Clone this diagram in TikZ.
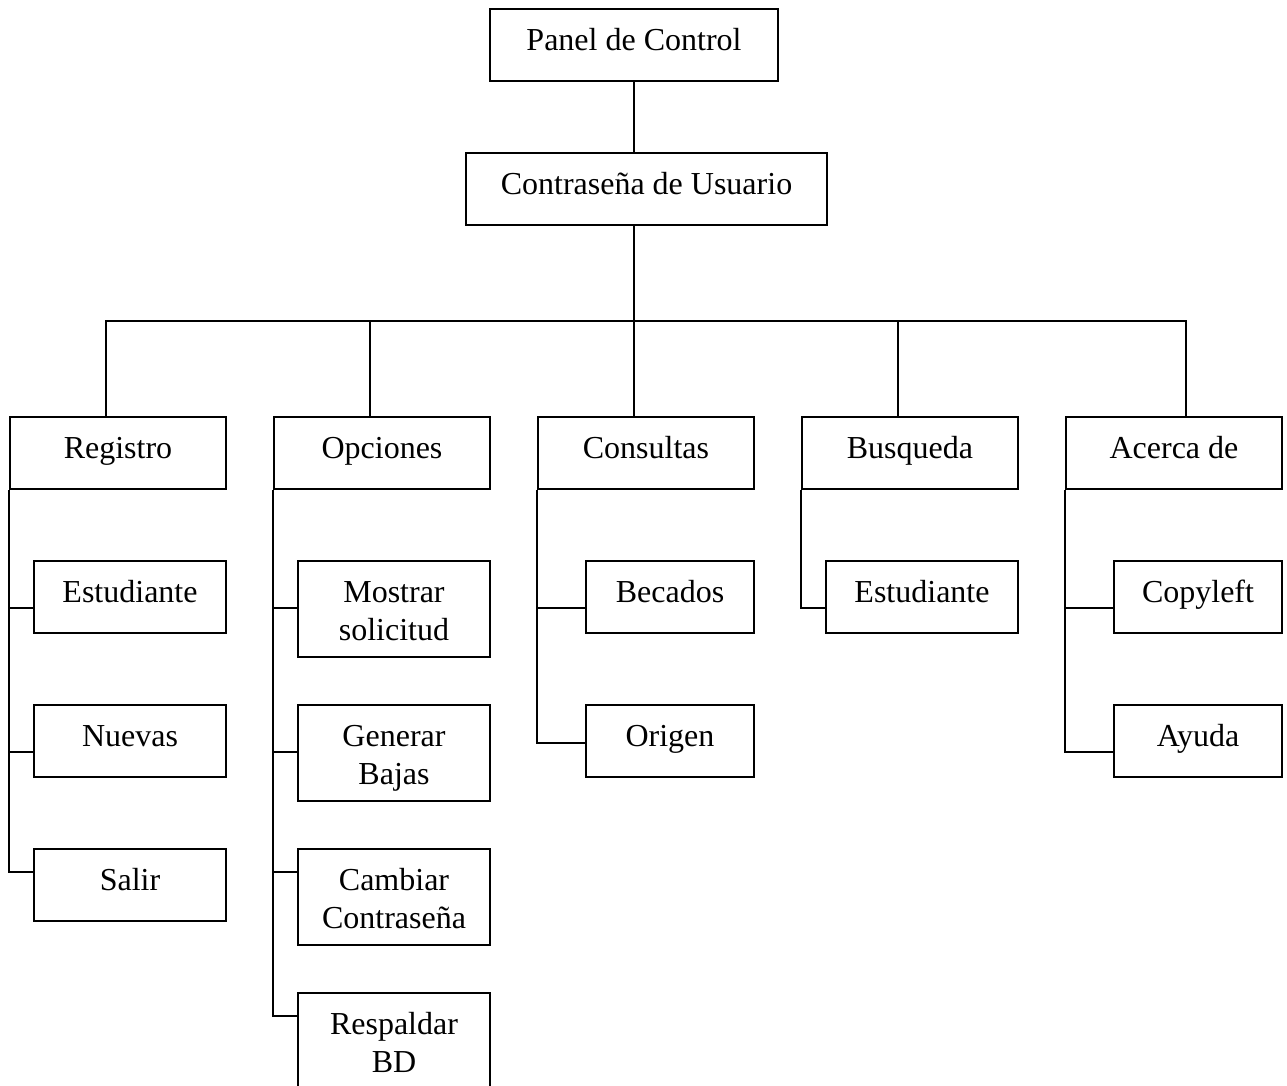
\documentclass[tikz,border=0pt]{standalone}
\usepackage{fontspec}
\setmainfont{Liberation Serif}
\usetikzlibrary{calc}

% line struts: a single line gets fixed height and depth;
% two-line labels get a tall first line and a shallow last line
\newcommand{\lstrut}{\rule[-6pt]{0pt}{17pt}}
\newcommand{\twoline}[2]{\rule{0pt}{15.5pt}#1\\\rule[-3.5pt]{0pt}{3.5pt}#2}

\tikzset{
  menubox/.style={draw=black, line width=1pt, rectangle, inner sep=0pt,
    align=center, font=\fontsize{16}{19}\selectfont},
  wide/.style={minimum width=108pt},
  sub/.style={minimum width=96pt},
  subnarrow/.style={minimum width=84pt},
  onerow/.style={minimum height=36pt},
  tworow/.style={minimum height=48pt},
  link/.style={draw=black, line width=1pt}
}

\begin{document}
\begin{tikzpicture}[x=0.5pt, y=-0.5pt]
\useasboundingbox (0,0) rectangle (1287,1086);
\clip (0,0) rectangle (1287,1086);

% top of the tree
\node[menubox, minimum width=144pt, onerow] (panel) at (634,45) {\lstrut Panel de Control};
\node[menubox, minimum width=180.5pt, onerow] (pass) at (646.5,189) {\lstrut Contraseña de Usuario};

% main menu
\node[menubox, wide, onerow] (reg) at (118,453) {\lstrut Registro};
\node[menubox, wide, onerow] (opt) at (382,453) {\lstrut Opciones};
\node[menubox, wide, onerow] (con) at (646,453) {\lstrut Consultas};
\node[menubox, wide, onerow] (bus) at (910,453) {\lstrut Busqueda};
\node[menubox, wide, onerow] (acd) at (1174,453) {\lstrut Acerca de};

% Registro items
\node[menubox, sub, onerow] (reg1) at (130,597) {\lstrut Estudiante};
\node[menubox, sub, onerow] (reg2) at (130,741) {\lstrut Nuevas};
\node[menubox, sub, onerow] (reg3) at (130,885) {\lstrut Salir};

% Opciones items
\node[menubox, sub, tworow] (opt1) at (394,609) {\twoline{Mostrar}{solicitud}};
\node[menubox, sub, tworow] (opt2) at (394,753) {\twoline{Generar}{Bajas}};
\node[menubox, sub, tworow] (opt3) at (394,897) {\twoline{Cambiar}{Contraseña}};
\node[menubox, sub, tworow] (opt4) at (394,1041) {\twoline{Respaldar}{BD}};

% Consultas items
\node[menubox, subnarrow, onerow] (con1) at (670,597) {\lstrut Becados};
\node[menubox, subnarrow, onerow] (con2) at (670,741) {\lstrut Origen};

% Busqueda items
\node[menubox, sub, onerow] (bus1) at (922,597) {\lstrut Estudiante};

% Acerca de items
\node[menubox, subnarrow, onerow] (acd1) at (1198,597) {\lstrut Copyleft};
\node[menubox, subnarrow, onerow] (acd2) at (1198,741) {\lstrut Ayuda};

% trunk and horizontal bus
\coordinate (hub) at (634,321);
\draw[link] (panel.south) -- (panel.south |- pass.north);
\draw[link] (panel.south |- pass.south) -- (hub);

\coordinate (d1) at ($(reg.north)+(-12,0)$);
\coordinate (d2) at ($(opt.north)+(-12,0)$);
\coordinate (d3) at ($(con.north)+(-12,0)$);
\coordinate (d4) at ($(bus.north)+(-12,0)$);
\coordinate (d5) at ($(acd.north)+(12,0)$);
\draw[link] (d1) |- (hub);
\draw[link] (d5) |- (hub);
\draw[link] (d2) -- (d2 |- hub);
\draw[link] (d3) -- (hub);
\draw[link] (d4) -- (d4 |- hub);

% branch points on the left side of each item
\coordinate (r1) at ($(reg1.north west)+(0,48)$);
\coordinate (r2) at ($(reg2.north west)+(0,48)$);
\coordinate (r3) at ($(reg3.north west)+(0,24)$);
\coordinate (o1) at ($(opt1.north west)+(0,48)$);
\coordinate (o2) at ($(opt2.north west)+(0,48)$);
\coordinate (o3) at ($(opt3.north west)+(0,24)$);
\coordinate (o4) at ($(opt4.north west)+(0,24)$);
\coordinate (c1) at ($(con1.north west)+(0,48)$);
\coordinate (c2) at ($(con2.north west)+(0,39)$);
\coordinate (b1) at ($(bus1.north west)+(0,48)$);
\coordinate (a1) at ($(acd1.north west)+(0,48)$);
\coordinate (a2) at ($(acd2.north west)+(0,48)$);

% sub-menu connectors
\foreach \p/\c in {reg/r1, reg/r2, reg/r3, opt/o1, opt/o2, opt/o3, opt/o4,
                   con/c1, con/c2, bus/b1, acd/a1, acd/a2}
  \draw[link] (\p.south west) |- (\c);
\end{tikzpicture}
\end{document}
